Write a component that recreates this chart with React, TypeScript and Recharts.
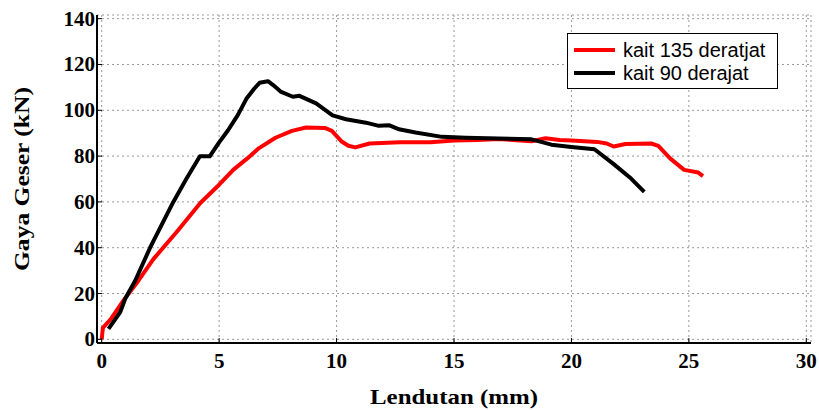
import { LineChart, Line, XAxis, YAxis, CartesianGrid, Legend, Label } from 'recharts'

// kait 135 deratjat (red)
const redX = [0, 0.05, 0.4, 0.93, 1.57, 2.2, 3.2, 4.2, 5.0, 5.6, 6.2, 6.7, 7.4, 8.1, 8.7, 9.5, 9.8, 10.2, 10.5, 10.8, 11.4, 12.7, 14.0, 15.0, 16.0, 16.9, 17.5, 18.3, 18.9, 19.5, 20.0, 21.1, 21.5, 21.8, 22.3, 23.4, 23.7, 24.2, 24.8, 25.4, 25.6]
const redY = [0, 5, 9, 17, 25.7, 35, 47, 59.5, 67.5, 74, 79, 83.5, 88, 91, 92.5, 92.3, 91, 86.5, 84.5, 83.8, 85.5, 86, 86, 86.8, 87, 87.5, 87, 86.5, 87.8, 87, 86.8, 86.2, 85.5, 84.2, 85.3, 85.5, 84.5, 79, 74, 72.8, 71.3]

// kait 90 derajat (black)
const blackX = [0.29, 0.79, 1.0, 1.43, 2.06, 3.05, 3.6, 4.18, 4.6, 5.0, 5.38, 5.8, 6.16, 6.5, 6.72, 7.08, 7.3, 7.64, 8.14, 8.42, 9.13, 9.83, 10.4, 11.25, 11.8, 12.23, 12.66, 13.36, 14.49, 15.5, 16.9, 18.3, 19.15, 20.0, 20.98, 21.8, 22.54, 23.1]
const blackY = [4.6, 11.9, 17.7, 25.7, 40, 60, 70, 79.9, 79.9, 86, 91.3, 98, 105, 109.5, 112, 112.7, 111, 108, 105.9, 106.3, 103, 97.8, 96.1, 94.6, 93.2, 93.5, 91.7, 90.3, 88.4, 88, 87.7, 87.3, 85, 84, 83, 76.5, 70.2, 64.4]

const xTicks = [0, 5, 10, 15, 20, 25, 30]
const yTicks = [0, 20, 40, 60, 80, 100, 120, 140]

const redData = redX.map((x, i) => ({ x, y: redY[i] }))
const blackData = blackX.map((x, i) => ({ x, y: blackY[i] }))

const serif = '"Liberation Serif", "Times New Roman", serif'

function XTick(props: any) {
  const { x, y, payload } = props
  return (
    <text x={x} y={y + 15} textAnchor="middle" fontFamily={serif} fontWeight="bold" fontSize={21} fill="#000">
      {payload.value}
    </text>
  )
}

function YTick(props: any) {
  const { x, y, payload } = props
  return (
    <text x={x} y={y + 7} textAnchor="end" fontFamily={serif} fontWeight="bold" fontSize={21} fill="#000">
      {payload.value}
    </text>
  )
}

function LegendBox(props: any) {
  const payload = props.payload || []
  return (
    <div style={{ border: '1.5px solid #000', background: '#fff', boxSizing: 'border-box', width: 211, height: 56, paddingTop: 5, fontFamily: '"Liberation Sans", Arial, sans-serif', fontSize: 20, color: '#000' }}>
      {payload.map((p: any) => (
        <div key={p.value} style={{ display: 'flex', alignItems: 'center', height: 22.5, lineHeight: '22.5px' }}>
          <span style={{ display: 'inline-block', width: 41, height: 4, background: p.color, marginLeft: 6, marginRight: 8 }} />
          {p.value}
        </div>
      ))}
    </div>
  )
}

export default function App() {
  return (
    <div style={{ position: 'absolute', left: 0, top: 0, width: 819, height: 410, background: '#fff' }}>
      <LineChart width={819} height={410} margin={{ top: 15, right: 8, bottom: 0, left: 0 }}>
        <CartesianGrid stroke="#999" strokeDasharray="2 3" />
        <XAxis dataKey="x" type="number" domain={[-0.2, 30.2]} ticks={xTicks} allowDataOverflow height={67}
          tickSize={-5} tickMargin={15} tick={<XTick />} tickLine={{ stroke: '#000' }}
          axisLine={{ stroke: '#000', strokeWidth: 2 }}>
          <Label content={(p: any) => {
            const vb = p.viewBox
            return (
              <text x={vb.x + vb.width / 2} y={404} textAnchor="middle" textLength={168} lengthAdjust="spacingAndGlyphs"
                fontFamily={serif} fontWeight="bold" fontSize={21}>Lendutan (mm)</text>
            )
          }} />
        </XAxis>
        <XAxis xAxisId="top" orientation="top" type="number" domain={[-0.2, 30.2]} ticks={xTicks} allowDataOverflow height={0}
          tickSize={-5} tickFormatter={() => ''} tickLine={{ stroke: '#000' }}
          axisLine={{ stroke: '#000', strokeWidth: 2 }} />
        <YAxis type="number" domain={[-1.6, 141.6]} ticks={yTicks} allowDataOverflow width={97}
          tickSize={-5} tickMargin={7} tick={<YTick />} tickLine={{ stroke: '#000' }}
          axisLine={{ stroke: '#000', strokeWidth: 2 }}>
          <Label content={(p: any) => {
            const vb = p.viewBox
            const cy = vb.y + vb.height / 2
            return (
              <text x={29} y={cy} textAnchor="middle" textLength={184} lengthAdjust="spacingAndGlyphs"
                transform={`rotate(-90 29 ${cy})`}
                fontFamily={serif} fontWeight="bold" fontSize={22}>Gaya Geser (kN)</text>
            )
          }} />
        </YAxis>
        <YAxis yAxisId="right" orientation="right" type="number" domain={[-1.6, 141.6]} ticks={yTicks} allowDataOverflow width={0}
          tickSize={-5} tickFormatter={() => ''} tickLine={{ stroke: '#000' }}
          axisLine={{ stroke: '#000', strokeWidth: 2 }} />
        <Legend layout="vertical" align="center" verticalAlign="middle" content={LegendBox}
          wrapperStyle={{ left: 567, top: 33, width: 211, height: 56 }} />
        <Line data={redData} dataKey="y" name="kait 135 deratjat" stroke="#ff0000" strokeWidth={4}
          dot={false} isAnimationActive={false} strokeLinejoin="round" type="linear" />
        <Line data={blackData} dataKey="y" name="kait 90 derajat" stroke="#000000" strokeWidth={4}
          dot={false} isAnimationActive={false} strokeLinejoin="round" type="linear" />
      </LineChart>
    </div>
  )
}
